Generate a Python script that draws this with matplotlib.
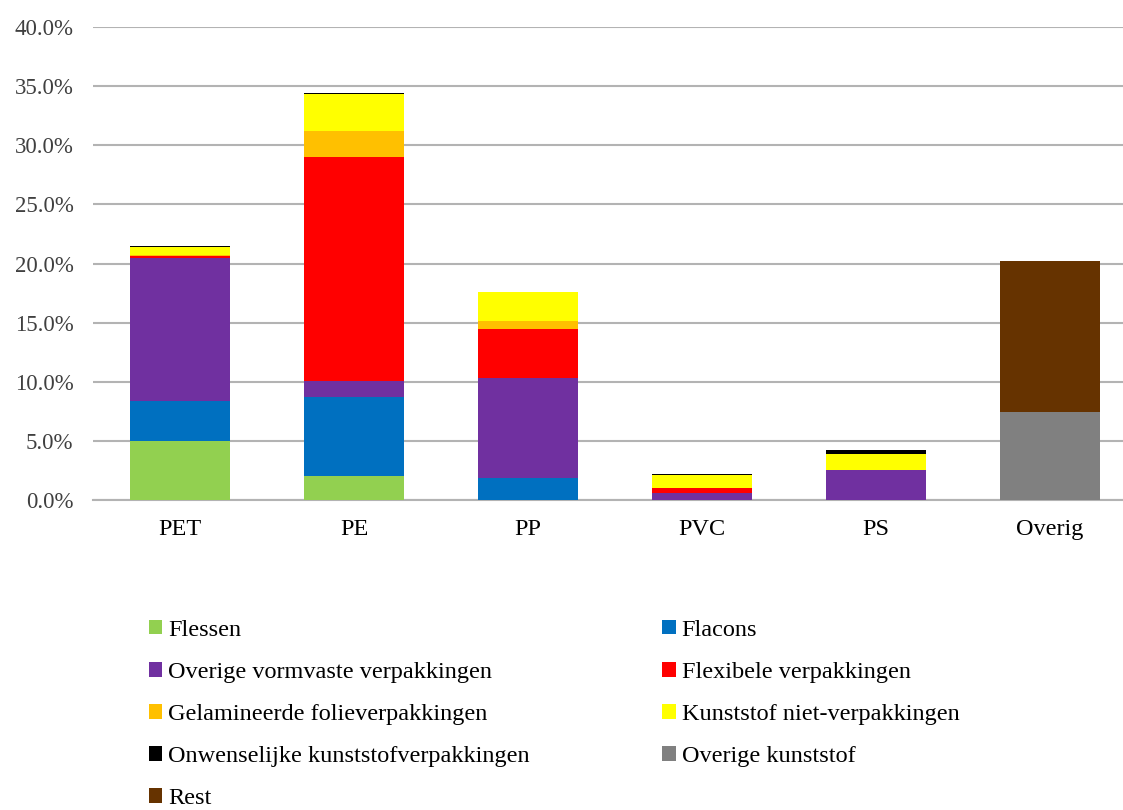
import matplotlib.pyplot as plt
import numpy as np

plt.rcParams["font.family"] = ["Liberation Serif", "DejaVu Serif"]

categories = ["PET", "PE", "PP", "PVC", "PS", "Overig"]

# shares in % per polymer, per packaging type
flessen       = [5.0, 2.0, 0.0, 0.0, 0.0, 0.0]
flacons       = [3.4, 6.7, 1.9, 0.0, 0.0, 0.0]
overige_vorm  = [12.1, 1.4, 8.45, 0.6, 2.5, 0.0]
flexibel      = [0.1, 18.9, 4.15, 0.4, 0.0, 0.0]
gelamineerd   = [0.15, 2.2, 0.6, 0.0, 0.0, 0.0]
niet_verpak   = [0.65, 3.1, 2.45, 1.1, 1.35, 0.0]
onwenselijk   = [0.1, 0.1, 0.05, 0.1, 0.35, 0.0]
overige_kunst = [0.0, 0.0, 0.0, 0.0, 0.0, 7.4]
rest          = [0.0, 0.0, 0.0, 0.0, 0.0, 12.8]

series = [
    ("Flessen", flessen, "#92D050"),
    ("Flacons", flacons, "#0070C0"),
    ("Overige vormvaste verpakkingen", overige_vorm, "#7030A0"),
    ("Flexibele verpakkingen", flexibel, "#FF0000"),
    ("Gelamineerde folieverpakkingen", gelamineerd, "#FFC000"),
    ("Kunststof niet-verpakkingen", niet_verpak, "#FFFF00"),
    ("Onwenselijke kunststofverpakkingen", onwenselijk, "#000000"),
    ("Overige kunststof", overige_kunst, "#808080"),
    ("Rest", rest, "#663300"),
]

fig = plt.figure(figsize=(11.23, 8.10), dpi=100)
ax = fig.add_axes([93 / 1123, 310 / 810, 1044 / 1123, 473 / 810])

x = np.arange(len(categories))
bottom = np.zeros(len(categories))
handles = []
for name, vals, col in series:
    vals = np.array(vals)
    b = ax.bar(x, vals, 0.57, bottom=bottom, color=col, label=name, zorder=3)
    handles.append(b)
    bottom += vals

ax.set_ylim(0, 40)
ax.set_xlim(-0.5, 5.5)
ax.set_yticks(np.arange(0, 41, 5))
ax.set_yticklabels([f"{v:.1f}%" for v in np.arange(0, 41, 5)], fontsize=16.5)
ax.set_xticks(x)
ax.set_xticklabels(categories, fontsize=17.5)
ax.tick_params(axis="y", length=0, pad=14, colors="#404040")
ax.tick_params(axis="x", length=0, pad=14, colors="#000000")
ax.grid(axis="y", color="#B3B3B3", linewidth=1.5, zorder=0)
for s in ["left", "right", "top"]:
    ax.spines[s].set_visible(False)
ax.spines["bottom"].set_color("#B3B3B3")
ax.spines["bottom"].set_linewidth(1.5)

# reorder so the legend reads row by row
order = [0, 2, 4, 6, 8, 1, 3, 5, 7]
fig.legend([handles[i] for i in order], [series[i][0] for i in order],
           ncol=2, loc="upper left", bbox_to_anchor=(139 / 1123, 1 - 610 / 810),
           frameon=False, fontsize=17.5, handlelength=0.55, handleheight=0.55,
           handletextpad=0.25, labelspacing=0.87, columnspacing=5.45,
           borderaxespad=0)

plt.savefig("out.png", dpi=100)
